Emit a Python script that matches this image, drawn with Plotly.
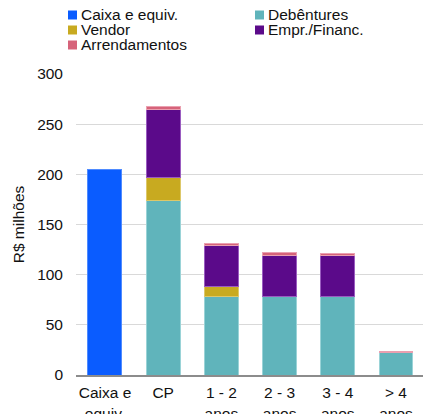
import plotly.graph_objects as go

# Debt maturity profile (R$ millions)
categories = ["Caixa e<br>equiv.", "CP", "1 - 2<br>anos", "2 - 3<br>anos", "3 - 4<br>anos", "> 4<br>anos"]
caixa = [205, None, None, None, None, None]
debentures = [None, 174, 78, 78, 78, 22.5]
vendor = [None, 23, 10, None, None, None]
empr_financ = [None, 68, 41, 41, 41, None]
arrendamentos = [None, 3, 1.7, 3, 2, 0.5]
y_ticks = [0, 50, 100, 150, 200, 250, 300]

series = [
    ("Caixa e equiv.", caixa, "#0a5cff", "#4f8bff"),
    ("Debêntures", debentures, "#60b4bb", "#9ad3d7"),
    ("Vendor", vendor, "#c8aa20", "#ddc86a"),
    ("Empr./Financ.", empr_financ, "#5b0a8a", "#9a5cc0"),
    ("Arrendamentos", arrendamentos, "#d6637a", "#eaa0b0"),
]

FONT = "Liberation Sans, Arial, sans-serif"
W, H = 423, 414
ML, MR, MT, MB = 76, 0, 74, 39
PW, PH = W - ML - MR, H - MT - MB

fig = go.Figure()
for name, vals, color, edge in series:
    fig.add_trace(go.Bar(
        x=categories, y=vals, name=name,
        marker=dict(color=color, line=dict(color=edge, width=1)),
        showlegend=False,
    ))

# Two-column legend drawn as swatches and labels above the plot
def px_to_paper(px, py):
    return (px - ML) / PW, (H - MB - py) / PH

legend_pos = [(68, 15), (255, 15), (68, 30), (255, 30), (68, 45)]
shapes, annotations = [], []
for (name, _, color, _), (lx, ly) in zip(series, legend_pos):
    x0, y0 = px_to_paper(lx, ly + 4.5)
    x1, y1 = px_to_paper(lx + 9, ly - 4.5)
    shapes.append(dict(type="rect", xref="paper", yref="paper",
                       x0=x0, y0=y0, x1=x1, y1=y1,
                       fillcolor=color, line=dict(width=0)))
    tx, ty = px_to_paper(lx + 11, ly)
    annotations.append(dict(text=name, xref="paper", yref="paper",
                            x=tx, y=ty, xanchor="left", yanchor="middle",
                            showarrow=False,
                            font=dict(family=FONT, size=15.5, color="#111")))

fig.update_layout(
    width=W, height=H,
    margin=dict(l=ML, r=MR, t=MT, b=MB, autoexpand=False),
    barmode="stack", bargap=0.416,
    plot_bgcolor="white", paper_bgcolor="white",
    font=dict(family=FONT, size=15.5, color="#111"),
    shapes=shapes, annotations=annotations,
    xaxis=dict(
        range=[-0.498, 5.464], showgrid=False,
        showline=True, linecolor="#8c8c8c", linewidth=1.5,
        ticks="", ticklabelstandoff=3, tickfont=dict(size=15.5),
        automargin=False,
    ),
    yaxis=dict(
        range=[0, 300], tickvals=y_ticks,
        showgrid=True, gridcolor="#d9d9d9", gridwidth=1,
        zeroline=False, showline=False, ticks="",
        ticklabelstandoff=12, tickfont=dict(size=15.5),
        title=dict(text="R$ milhões", font=dict(size=15.5), standoff=8),
        automargin=False,
    ),
)

fig.write_html("out.html")
